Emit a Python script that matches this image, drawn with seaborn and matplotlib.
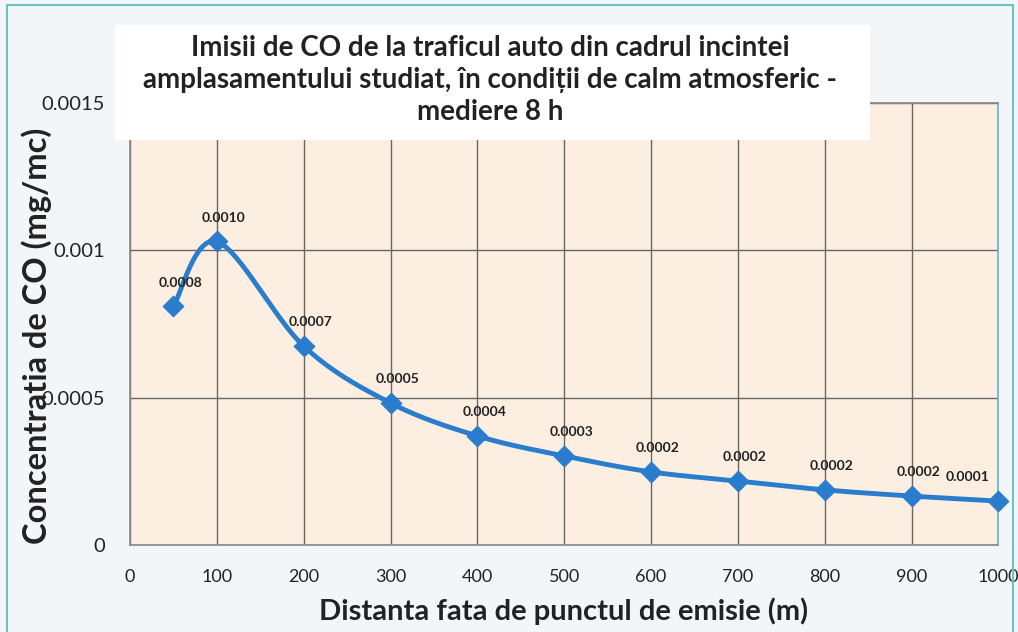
import numpy as np
import pandas as pd
import matplotlib
matplotlib.use("Agg")
import matplotlib.pyplot as plt
from matplotlib.patches import Rectangle
import seaborn as sns

# data
distance = [50, 100, 200, 300, 400, 500, 600, 700, 800, 900, 1000]
co_conc = [0.00081, 0.00103, 0.000675, 0.000482, 0.00037, 0.000302,
           0.000248, 0.000217, 0.000187, 0.000166, 0.000149]
point_labels = ["0.0008", "0.0010", "0.0007", "0.0005", "0.0004", "0.0003",
                "0.0002", "0.0002", "0.0002", "0.0002", "0.0001"]
x_ticks = [0, 100, 200, 300, 400, 500, 600, 700, 800, 900, 1000]
y_ticks = [0, 0.0005, 0.001, 0.0015]
y_ticklabels = ["0", "0.0005", "0.001", "0.0015"]

title = ("Imisii de CO de la traficul auto din cadrul incintei\n"
         "amplasamentului studiat, în condiții de calm atmosferic -\n"
         "mediere 8 h")

sns.set_style("white")
plt.rcParams['font.family'] = ['Lato', 'DejaVu Sans']

df = pd.DataFrame({"dist": distance, "co": co_conc})


# excel-like smoothed line (bezier through the points), done in screen-ish units
def smooth_line(x, y, sx, sy, n=40):
    px = np.asarray(x, float) * sx
    py = np.asarray(y, float) * sy
    P = np.column_stack([px, py])
    ext = np.vstack([P[0], P, P[-1]])
    out = []
    for i in range(len(P) - 1):
        p0, p1, p2, p3 = ext[i], ext[i + 1], ext[i + 2], ext[i + 3]
        c1 = p1 + (p2 - p0) / 6.0
        c2 = p2 - (p3 - p1) / 6.0
        t = np.linspace(0, 1, n)[:, None]
        seg = ((1 - t) ** 3) * p1 + 3 * ((1 - t) ** 2) * t * c1 + 3 * (1 - t) * t ** 2 * c2 + t ** 3 * p2
        out.append(seg if i == 0 else seg[1:])
    out = np.vstack(out)
    return out[:, 0] / sx, out[:, 1] / sy


sx, sy = 0.868, 294667.0
cx, cy = smooth_line(distance, co_conc, sx, sy)
curve = pd.DataFrame({"dist": cx, "co": cy})

fig = plt.figure(figsize=(10.18, 6.32), dpi=100)
fig.patch.set_facecolor("#f2f6f9")
fig.patches.append(Rectangle((0.007, -0.01), 0.988, 1.002, transform=fig.transFigure,
                             fill=False, edgecolor="#6cc3c0", linewidth=1.5))

ax = fig.add_axes([0.1277, 0.1377, 0.853, 0.6993])
ax.set_facecolor("#fcefe2")

blue = "#2a7ccc"
sns.lineplot(data=curve, x="dist", y="co", ax=ax, color=blue, linewidth=3.5, sort=False, zorder=3)
sns.scatterplot(data=df, x="dist", y="co", ax=ax, color=blue, marker="D", s=110,
                edgecolor=blue, zorder=4, clip_on=False)

for i, (xv, yv, lab) in enumerate(zip(distance, co_conc, point_labels)):
    dx = -22 if i == len(distance) - 1 else 5
    ax.annotate(lab, (xv, yv), xytext=(dx, 17), textcoords="offset points",
                ha="center", va="center", fontsize=10, fontweight="bold", color="#222222")

ax.set_xlim(0, 1000)
ax.set_ylim(0, 0.0015)
ax.set_xticks(x_ticks)
ax.set_yticks(y_ticks)
ax.set_yticklabels(y_ticklabels)
ax.tick_params(axis="both", length=0, labelsize=14.5, colors="#222222")
ax.tick_params(axis="x", labelsize=13, pad=17)
ax.tick_params(axis="y", pad=18)
ax.grid(True, color="#666666", linewidth=1.0)
for sp in ax.spines.values():
    sp.set_color("#888888")
    sp.set_linewidth(1.2)
ax.spines["right"].set_color("#6aaed0")

ax.set_xlabel("Distanta fata de punctul de emisie (m)", fontsize=21, fontweight="bold",
              color="#222222", va="center")
ax.set_ylabel("Concentratia de CO (mg/mc)", fontsize=23.5, fontweight="bold",
              color="#222222", va="center")
ax.xaxis.set_label_coords(0.499, -0.149)
ax.yaxis.set_label_coords(-0.108, 0.473)

# white title box overlapping the top of the plot
fig.patches.append(Rectangle((115 / 1018, 1 - 140 / 632), 755 / 1018, 115 / 632,
                             transform=fig.transFigure, facecolor="white",
                             edgecolor="none", zorder=9))
fig.text(490 / 1018, 1 - 80 / 632, title, ha="center", va="center", fontsize=20,
         fontweight="bold", color="#222222", linespacing=1.3, zorder=10)

fig.savefig("out.png", dpi=100, facecolor=fig.get_facecolor())
